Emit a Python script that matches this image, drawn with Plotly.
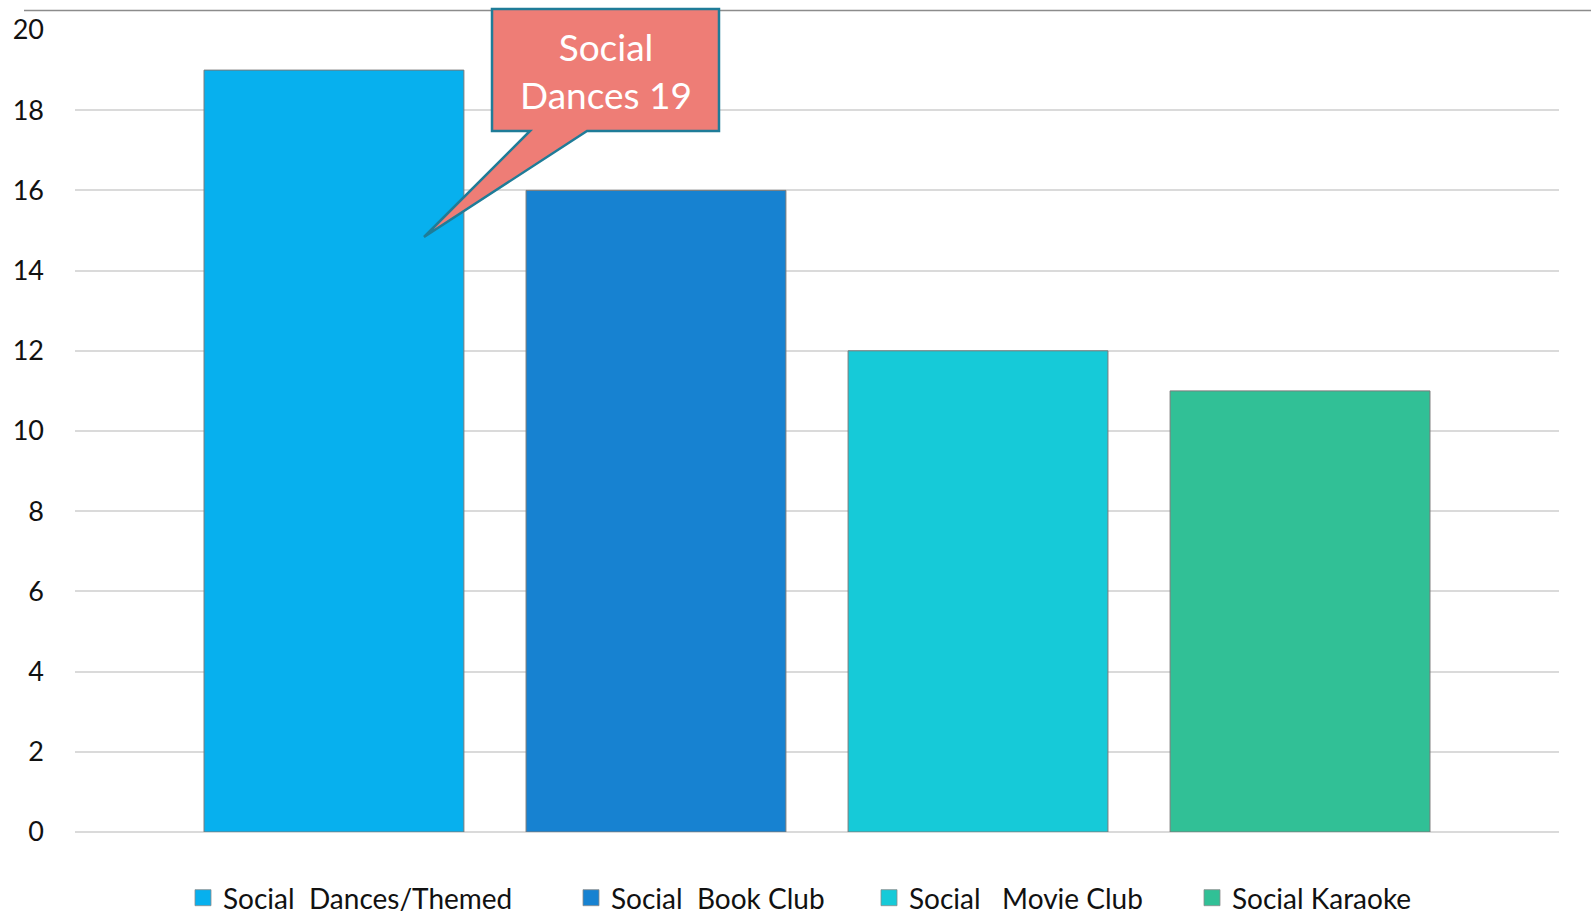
import plotly.graph_objects as go

# ---- data ----
category = ["Social"]
series_names = ["Social\u00a0\u00a0Dances/Themed", "Social\u00a0\u00a0Book Club",
                "Social\u00a0\u00a0\u00a0Movie Club", "Social Karaoke"]
values = [19, 16, 12, 11]
colors = ["#07B0EE", "#1782D1", "#16CAD8", "#31C096"]
y_ticks = [0, 2, 4, 6, 8, 10, 12, 14, 16, 18, 20]

W, H = 1591, 915
ML, MR, MT, MB = 75, 32, 30, 83
PW, PH = W - ML - MR, H - MT - MB

def px_x(px):
    return (px - ML) / PW

def px_y(py):
    return (H - MB - py) / PH

FONT = "Lato, Calibri, 'Open Sans', sans-serif"

legend_ids = ["legend", "legend2", "legend3", "legend4"]
legend_text_x = [225, 613, 911, 1234]

fig = go.Figure()
for name, v, c in zip(series_names, values, colors):
    fig.add_trace(go.Bar(
        x=category, y=[v], name=name, showlegend=False,
        marker=dict(color=c, line=dict(color="#7a7a7a", width=1)),
        hoverinfo="y+name",
    ))
# legend keys (square swatches) for each series
for name, c, lg in zip(series_names, colors, legend_ids):
    fig.add_trace(go.Scatter(
        x=[None], y=[None], mode="markers", name=name, legend=lg,
        marker=dict(symbol="square", size=16, color=c, line=dict(color="#8a8a8a", width=0.8)),
        showlegend=True,
    ))

# callout (box + pointer)
bx0, bx1, by0, by1 = 492, 719, 9, 131
wedge_l, wedge_r, tip = 530, 587, (424, 237)
pts = [(bx0, by0), (bx1, by0), (bx1, by1), (wedge_r, by1), tip, (wedge_l, by1), (bx0, by1)]
path = "M " + " L ".join(f"{px_x(x):.5f},{px_y(y):.5f}" for x, y in pts) + " Z"
shapes = [
    dict(type="line", xref="paper", yref="paper",
         x0=px_x(24), x1=px_x(W), y0=px_y(10.5), y1=px_y(10.5),
         line=dict(color="#8c8c8c", width=1.5)),
    dict(type="path", xref="paper", yref="paper", path=path,
         fillcolor="#EE7D76", line=dict(color="#1F7C98", width=2.5), layer="above"),
]

annotations = [
    dict(xref="paper", yref="paper", x=px_x((bx0 + bx1) / 2), y=px_y((by0 + by1) / 2 + 1),
         xanchor="center", yanchor="middle", showarrow=False,
         text=f"Social<br>Dances {values[0]}",
         font=dict(family=FONT, size=37, color="white")),
]

layout_legends = {}
for lg, tx in zip(legend_ids, legend_text_x):
    layout_legends[lg] = dict(
        orientation="h", x=px_x(tx - 42), xanchor="left", y=px_y(898), yanchor="middle",
        font=dict(family=FONT, size=28, color="#111111"),
        itemwidth=30, bgcolor="rgba(0,0,0,0)",
    )

fig.update_layout(
    width=W, height=H,
    margin=dict(l=ML, r=MR, t=MT, b=MB, autoexpand=False),
    paper_bgcolor="white", plot_bgcolor="white",
    barmode="group", bargap=0.132, bargroupgap=0.193,
    font=dict(family=FONT, color="#111111"),
    xaxis=dict(type="category", showticklabels=False, showgrid=False,
               zeroline=False, showline=False, ticks=""),
    yaxis=dict(range=[0, 20], tickvals=y_ticks, showgrid=True,
               gridcolor="#dadada", gridwidth=2, zeroline=True,
               zerolinecolor="#dadada", zerolinewidth=2, showline=False,
               tickfont=dict(family=FONT, size=27, color="#111111"),
               ticklabelstandoff=30),
    shapes=shapes,
    annotations=annotations,
    showlegend=True,
    **layout_legends,
)

fig.write_html("out.html")
